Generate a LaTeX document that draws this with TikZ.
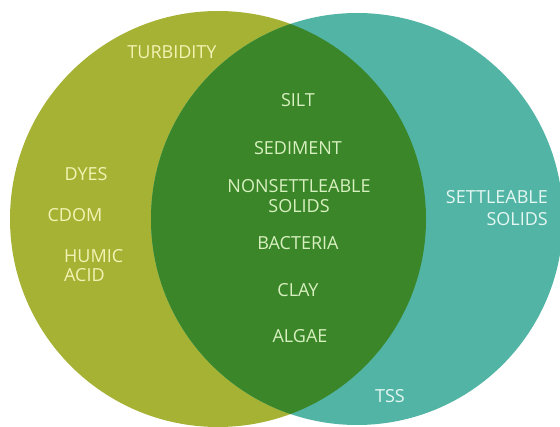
\documentclass[tikz,border=0pt]{standalone}
\usepackage{fontspec}
\setmainfont{Open Sans}
\definecolor{olive}{RGB}{166,178,52}
\definecolor{darkgr}{RGB}{58,134,40}
\definecolor{teal}{RGB}{82,180,164}
\definecolor{txtolive}{RGB}{244,242,180}
\definecolor{txtgreen}{RGB}{216,240,192}
\definecolor{txtteal}{RGB}{228,247,242}
\tikzset{
  lbl/.style={inner sep=0pt, font=\fontsize{18}{20}\selectfont, align=center},
  lo/.style={lbl, text=txtolive},
  lg/.style={lbl, text=txtgreen},
  lt/.style={lbl, text=txtteal},
}
\begin{document}
\begin{tikzpicture}[x=1pt,y=-1pt]
\useasboundingbox (0,0) rectangle (560,427);
\clip (0,0) rectangle (560,427);
\fill[white] (0,0) rectangle (560,427);
\fill[olive] (218,219) circle[radius=208];
\fill[teal] (357,219) circle[radius=206];
\begin{scope}
  \clip (218,219) circle[radius=208];
  \fill[darkgr] (357,219) circle[radius=206];
\end{scope}
% left only
\node[lo] (turb) at (172,52) {TURBIDITY};
\node[lo] (dyes) at (86,174) {DYES};
\node[lo] (cdom) at (75,215) {CDOM};
\node[lo, anchor=west, align=left] (humic) at (64,266) {HUMIC\\[-1pt]ACID};
% intersection
\node[lg] (silt) at (298,100) {SILT};
\node[lg] (sed) at (298,148) {SEDIMENT};
\node[lg] (nons) at (299,196) {NONSETTLEABLE\\SOLIDS};
\node[lg] (bact) at (298,243) {BACTERIA};
\node[lg] (clay) at (298,290) {CLAY};
\node[lg] (algae) at (300,336) {ALGAE};
% right only
\node[lt, anchor=east, align=right] (sett) at (548,208) {SETTLEABLE\\[2pt]SOLIDS};
\node[lt] (tss) at (390,396) {TSS};
\end{tikzpicture}
\end{document}
